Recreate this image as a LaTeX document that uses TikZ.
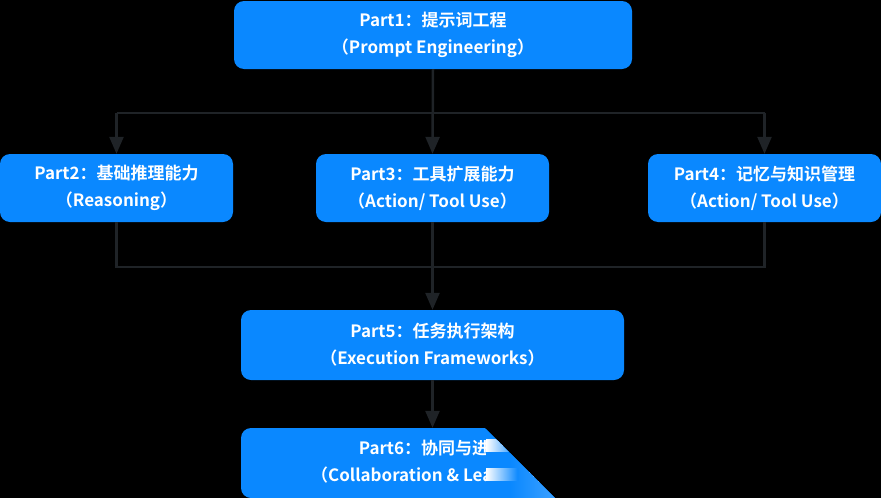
\documentclass[tikz,border=0pt]{standalone}
\usepackage{fontspec}
\setmainfont{Noto Sans CJK SC}[BoldFont=* Bold]
\usetikzlibrary{positioning,arrows.meta}

\definecolor{boxBlue}{HTML}{0A88FF}
\definecolor{glareBlue}{HTML}{3FA2FF}
\definecolor{lineGrey}{HTML}{1F2327}

\tikzset{
  part/.style={fill=boxBlue, rounded corners=10pt, text=white, align=center,
    font=\bfseries\fontsize{17}{27}\selectfont, inner sep=0pt},
  link/.style={draw=lineGrey, line width=2.5pt},
  arrow/.style={link, -{Triangle[length=17pt,width=14pt]}},
}

\begin{document}
\begin{tikzpicture}[x=1pt, y=-1pt]
    % Canvas
    \useasboundingbox (0,0) rectangle (881,498);
    \fill[black] (0,0) rectangle (881,498);

    % Boxes
    \node[part, minimum width=398pt, minimum height=68pt] (part1) at (433,35)
        {Part1：提示词工程\\（Prompt Engineering）};
    \node[part, minimum width=233pt, minimum height=68pt] (part2) at (116.5,188)
        {Part2：基础推理能力\\（Reasoning）};
    \node[part, minimum width=233pt, minimum height=68pt] (part3) at (432.5,188)
        {Part3：工具扩展能力\\（Action/ Tool Use）};
    \node[part, minimum width=233pt, minimum height=68pt] (part4) at (764.5,188)
        {Part4：记忆与知识管理\\（Action/ Tool Use）};
    \node[part, minimum width=383pt, minimum height=70pt] (part5) at (432.5,345)
        {Part5：任务执行架构\\（Execution Frameworks）};

    % Last box, cut off by the glare
    \begin{scope}
        \clip (0,328) -- (385,328) -- (555,498) -- (0,498) -- cycle;
        \node[part, minimum width=383pt, minimum height=70pt] (part6) at (432.5,463)
            {Part6：协同与进化\\（Collaboration \& Learning）};
        \fill[boxBlue] (486,420) rectangle (600,498);
        \shade[left color=boxBlue, right color=glareBlue] (510,420) rectangle (558,498);
        \shade[left color=white, right color=boxBlue] (486,439) rectangle (518,451);
        \shade[left color=white, right color=boxBlue] (486,468) rectangle (518,480);
    \end{scope}

    % Split below Part1
    \coordinate (splitTop) at (433,113);
    \coordinate (joinLow) at (433,267);

    \draw[arrow] (part1.south) -- (part3.north);
    \draw[link] (part2.north |- splitTop) -- (part4.north |- splitTop);
    \draw[arrow] (part2.north |- splitTop) -- (part2.north);
    \draw[arrow] (part4.north |- splitTop) -- (part4.north);

    % Join into Part5
    \draw[link] (part2.south) -- (part2.south |- joinLow) -- (part4.south |- joinLow) -- (part4.south);
    \draw[arrow] (part3.south) -- (part5.north);
    \draw[arrow] (part5.south) -- (part6.north);

\end{tikzpicture}
\end{document}
